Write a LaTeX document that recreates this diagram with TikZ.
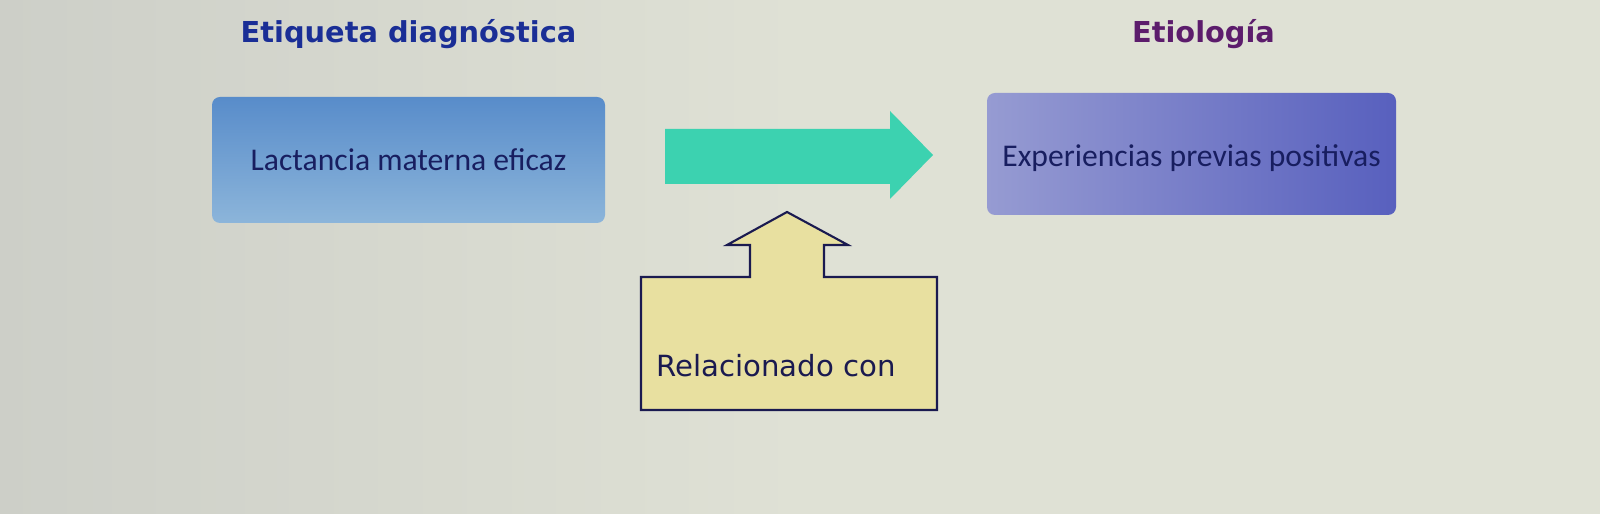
\documentclass[tikz,border=0pt]{standalone}
\usepackage{fontspec}
\setmainfont{Carlito}
\newfontfamily\verdanalike{DejaVu Sans}
\usetikzlibrary{positioning}

\definecolor{pagebg}{RGB}{223,225,213}
\definecolor{pageedge}{RGB}{205,207,200}
\definecolor{diagtop}{RGB}{88,140,202}
\definecolor{diagbot}{RGB}{140,181,218}
\definecolor{etioleft}{RGB}{150,155,210}
\definecolor{etioright}{RGB}{88,96,190}
\definecolor{boxtext}{RGB}{24,30,96}
\definecolor{diagtitle}{RGB}{26,46,150}
\definecolor{etiotitle}{RGB}{92,28,108}
\definecolor{arrowteal}{RGB}{60,210,176}
\definecolor{calloutfill}{RGB}{232,224,160}
\definecolor{calloutline}{RGB}{26,26,80}

\begin{document}
\begin{tikzpicture}[node distance=2cm, auto,
    box/.style={rectangle, rounded corners=0.16cm, text=boxtext, font=\fontsize{18}{21}\selectfont},
    heading/.style={font=\verdanalike\bfseries\fontsize{16.4}{19}\selectfont}]

        % Background of the screen
        \shade[left color=pageedge, right color=pagebg, middle color=pagebg] (0,0) rectangle (32,10.28);
        \useasboundingbox (0,0) rectangle (32,10.28);

        % Diagnosis box with its title
        \node[box, top color=diagtop, bottom color=diagbot, minimum width=7.86cm, minimum height=2.52cm] (diag) at (8.17,7.08) {Lactancia materna eficaz};
        \node[heading, text=diagtitle, above of=diag, node distance=2.52cm] (diaghead) {Etiqueta diagnóstica};

        % Etiology box with its title
        \node[box, left color=etioleft, right color=etioright, minimum width=8.18cm, minimum height=2.44cm] (etio) at (23.83,7.20) {\raisebox{-0.09cm}[\height][\depth]{Experiencias previas positivas}};
        \node[heading, text=etiotitle, above of=etio, node distance=2.40cm, xshift=0.24cm] (etiohead) {Etiología};

        % Block arrow between the boxes
        \fill[arrowteal] (13.30,7.70) -- (17.80,7.70) -- (17.80,8.06) -- (18.66,7.18)
            -- (17.80,6.30) -- (17.80,6.60) -- (13.30,6.60) -- cycle;

        % Up arrow callout
        \draw[calloutline, fill=calloutfill, line width=1.2pt] (12.82,2.08) -- (12.82,4.74) -- (15.00,4.74)
            -- (15.00,5.38) -- (14.54,5.38) -- (15.74,6.04) -- (16.96,5.38) -- (16.48,5.38)
            -- (16.48,4.74) -- (18.74,4.74) -- (18.74,2.08) -- cycle;
        \node[anchor=west, inner sep=0pt, text=calloutline, font=\verdanalike\fontsize{16.6}{19}\selectfont] (relnode) at (13.12,2.96) {Relacionado con};

\end{tikzpicture}
\end{document}
